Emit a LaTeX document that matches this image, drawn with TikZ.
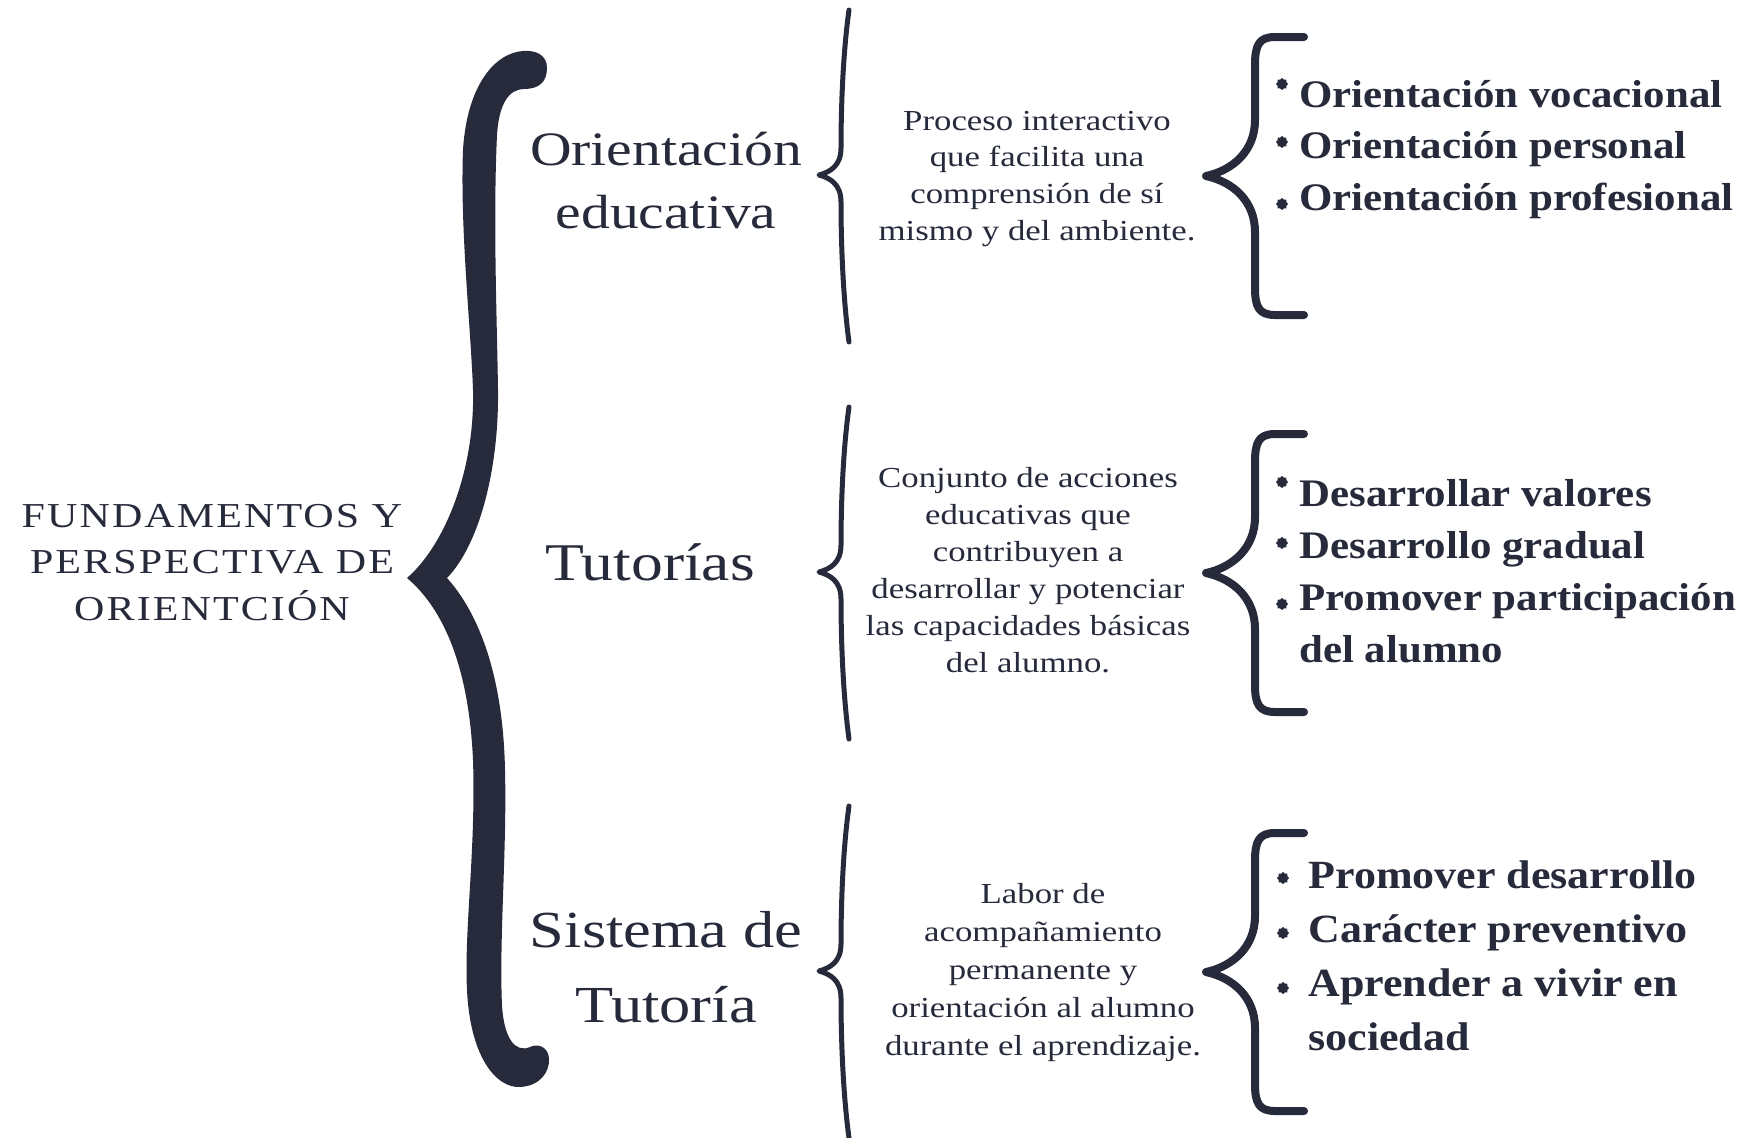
\documentclass[tikz,border=0pt]{standalone}
\usepackage{fontspec}
\setmainfont{Liberation Serif}
\newfontfamily\regfont[FakeStretch=1.2]{Liberation Serif}
\newfontfamily\boldfont[FakeStretch=1.1]{Liberation Serif}
\newfontfamily\titlefont[FakeStretch=1.2,LetterSpace=6]{Liberation Serif}
\usetikzlibrary{shapes.geometric}
\definecolor{ink}{RGB}{38,42,58}
\tikzset{
  txt/.style={inner sep=0pt, text=ink, anchor=base},
  itemtxt/.style={inner sep=0pt, text=ink, anchor=base west},
  bul/.style={star, star points=8, star point ratio=1.25, fill=ink, draw=none, minimum size=6pt, inner sep=0pt},
  midbrace/.style={draw=ink, line width=2.5pt, line cap=round, line join=round},
  rbrace/.style={draw=ink, line width=4pt, line cap=round, line join=round}
}
\begin{document}
\begin{tikzpicture}[x=0.5pt,y=-0.5pt]
\useasboundingbox (0,0) rectangle (1763,1137);
\fill[white] (0,0) rectangle (1763,1137);

% big brace
\fill[ink] (547,68)
 .. controls (547,55) and (536,50) .. (523,51)
 .. controls (495,53) and (467,85) .. (463,150)
 .. controls (460,230) and (471,330) .. (473,390)
 .. controls (475,470) and (445,545) .. (407,578)
 .. controls (445,610) and (469,670) .. (473,760)
 .. controls (476,850) and (464,930) .. (467,990)
 .. controls (470,1055) and (495,1088) .. (520,1087)
 .. controls (540,1086) and (550,1072) .. (549,1058)
 .. controls (548,1047) and (538,1043) .. (530,1047)
 .. controls (516,1053) and (504,1040) .. (502,1005)
 .. controls (499,940) and (507,850) .. (505,770)
 .. controls (503,670) and (476,610) .. (447,578)
 .. controls (479,545) and (499,470) .. (498,390)
 .. controls (497,320) and (493,220) .. (497,135)
 .. controls (499,102) and (510,89) .. (524,89)
 .. controls (539,89) and (547,82) .. (547,68) -- cycle;

% middle braces and right braces
\foreach \dy in {0,397,796}{
  \begin{scope}[shift={(0,\dy)}]
  \draw[midbrace] (849,10) .. controls (842,60) and (841,120) .. (841,148)
    .. controls (841,166) and (830,172) .. (819,175)
    .. controls (830,178) and (841,184) .. (841,202)
    .. controls (841,230) and (842,290) .. (849,342);
  \draw[rbrace] (1304,37) -- (1275,37) .. controls (1259,37) and (1255,45) .. (1255,65)
    -- (1255,120) .. controls (1255,150) and (1234,170) .. (1206,176)
    .. controls (1234,182) and (1255,202) .. (1255,232)
    -- (1255,288) .. controls (1255,307) and (1259,315) .. (1275,315) -- (1304,315);
  \end{scope}
}

% title
\node[txt, font=\titlefont\fontsize{17.5}{23.25}\selectfont] (title) at (212,527)
  {\begin{tabular}[t]{@{}c@{}}FUNDAMENTOS Y\\PERSPECTIVA DE\\ORIENTCIÓN\end{tabular}};

% headings
\node[txt, font=\regfont\fontsize{24}{31.5}\selectfont] (oe) at (666,165)
  {\begin{tabular}[t]{@{}c@{}}Orientación\\educativa\end{tabular}};
\node[txt, font=\regfont\fontsize{26.5}{30}\selectfont] (tut) at (650,580) {Tutorías};
\node[txt, font=\regfont\fontsize{26}{37.5}\selectfont] (st) at (666,947)
  {\begin{tabular}[t]{@{}c@{}}Sistema de\\Tutoría\end{tabular}};

% descriptions
\node[txt, font=\regfont\fontsize{14.5}{18.4}\selectfont] (d1) at (1037,130)
  {\begin{tabular}[t]{@{}c@{}}Proceso interactivo\\que facilita una\\comprensión de sí\\mismo y del ambiente.\end{tabular}};
\node[txt, font=\regfont\fontsize{14.5}{18.5}\selectfont] (d2) at (1028,487)
  {\begin{tabular}[t]{@{}c@{}}Conjunto de acciones\\educativas que\\contribuyen a\\desarrollar y potenciar\\las capacidades básicas\\del alumno.\end{tabular}};
\node[txt, font=\regfont\fontsize{14.5}{19}\selectfont] (d3) at (1043,903)
  {\begin{tabular}[t]{@{}c@{}}Labor de\\acompañamiento\\permanente y\\orientación al alumno\\durante el aprendizaje.\end{tabular}};

% item lists
\node[itemtxt, font=\boldfont\bfseries\fontsize{19.5}{25.75}\selectfont] (i1) at (1299,107)
  {\begin{tabular}[t]{@{}l@{}}Orientación vocacional\\Orientación personal\\Orientación profesional\end{tabular}};
\node[itemtxt, font=\boldfont\bfseries\fontsize{19.5}{26.15}\selectfont] (i2) at (1299,506)
  {\begin{tabular}[t]{@{}l@{}}Desarrollar valores\\Desarrollo gradual\\Promover participación\\del alumno\end{tabular}};
\node[itemtxt, font=\boldfont\bfseries\fontsize{20}{27.15}\selectfont] (i3) at (1308,888)
  {\begin{tabular}[t]{@{}l@{}}Promover desarrollo\\Carácter preventivo\\Aprender a vivir en\\sociedad\end{tabular}};

% bullets
\node[bul] (p11) at (1282,84) {};
\node[bul] (p12) at (1282,142) {};
\node[bul] (p13) at (1282,204) {};
\node[bul] (p21) at (1282,482) {};
\node[bul] (p22) at (1282,543) {};
\node[bul] (p23) at (1282,604) {};
\node[bul] (p31) at (1283,878) {};
\node[bul] (p32) at (1283,933) {};
\node[bul] (p33) at (1283,988) {};
\end{tikzpicture}
\end{document}
